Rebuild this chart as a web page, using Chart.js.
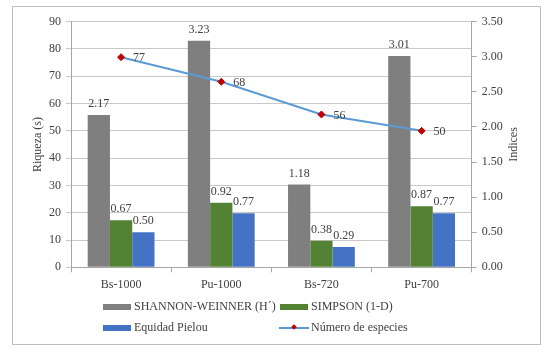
<!DOCTYPE html>
<html>
<head>
<meta charset="utf-8">
<script src="https://cdn.jsdelivr.net/npm/chart.js@4"></script>
<style>
html,body{margin:0;padding:0;background:#fff;}
#wrap{position:relative;width:555px;height:358px;}
#frame{position:absolute;left:12px;top:6px;width:527px;height:337px;border:1px solid #BFBFBF;box-sizing:content-box;pointer-events:none;}
canvas{position:absolute;left:0;top:0;}
.lg{position:absolute;font-family:"Liberation Serif","Times New Roman",serif;font-size:12px;color:#404040;white-space:nowrap;line-height:14px;}
.sw{position:absolute;}
</style>
</head>
<body>
<div id="wrap">
<canvas id="c" width="555" height="358"></canvas>
<div id="frame"></div>
<div id="legend"></div>
</div>
<script>
const categories = ["Bs-1000", "Pu-1000", "Bs-720", "Pu-700"];
const shannon = [2.17, 3.23, 1.18, 3.01];
const simpson = [0.67, 0.92, 0.38, 0.87];
const pielou = [0.50, 0.77, 0.29, 0.77];
const especies = [77, 68, 56, 50];
const seriesNames = ["SHANNON-WEINNER (H´)", "SIMPSON (1-D)", "Equidad Pielou", "Número de especies"];
const leftTitle = "Riqueza (s)";
const rightTitle = "Indices";

const FONT = '"Liberation Serif", "Times New Roman", serif';
const TXT = '#404040';

const labelPlugin = {
  id: 'labels',
  afterDatasetsDraw(chart) {
    const ctx = chart.ctx;
    ctx.save();
    ctx.font = '12px ' + FONT;
    ctx.fillStyle = TXT;
    chart.data.datasets.forEach((ds, i) => {
      const meta = chart.getDatasetMeta(i);
      meta.data.forEach((el, j) => {
        const v = ds.data[j];
        if (ds.type === 'line') {
          ctx.textAlign = 'left';
          ctx.textBaseline = 'middle';
          ctx.fillText(String(v), el.x + 12, el.y + 1);
        } else {
          ctx.textAlign = 'center';
          ctx.textBaseline = 'bottom';
          ctx.fillText(v.toFixed(2), el.x, el.y - 5);
        }
      });
    });
    const ca = chart.chartArea;
    const cy = (ca.top + ca.bottom) / 2;
    ctx.textAlign = 'center';
    ctx.textBaseline = 'middle';
    ctx.save();
    ctx.translate(38, cy);
    ctx.rotate(-Math.PI / 2);
    ctx.fillText(leftTitle, 0, 0);
    ctx.restore();
    ctx.save();
    ctx.translate(514, cy);
    ctx.rotate(-Math.PI / 2);
    ctx.fillText(rightTitle, 0, 0);
    ctx.restore();
    ctx.restore();
  }
};

const GRID = '#C8C8C8';
const AXIS = '#A6A6A6';

new Chart(document.getElementById('c'), {
  type: 'bar',
  data: {
    labels: categories,
    datasets: [
      { type: 'line', label: seriesNames[3], data: especies, yAxisID: 'y', order: 0,
        borderColor: '#5B9BD5', borderWidth: 2, tension: 0,
        pointStyle: 'rectRot', pointRadius: 3.5, pointBackgroundColor: '#C00000', pointBorderColor: '#C00000', pointBorderWidth: 1 },
      { label: seriesNames[0], data: shannon, yAxisID: 'y1', backgroundColor: '#7F7F7F', order: 1 },
      { label: seriesNames[1], data: simpson, yAxisID: 'y1', backgroundColor: '#548235', order: 1 },
      { label: seriesNames[2], data: pielou, yAxisID: 'y1', backgroundColor: '#4472C4', order: 1 }
    ]
  },
  options: {
    responsive: false,
    animation: false,
    devicePixelRatio: 1,
    layout: { padding: { left: 0, right: 0, top: 21.7, bottom: 0 } },
    datasets: { bar: { categoryPercentage: 0.667, barPercentage: 1.0 } },
    plugins: { legend: { display: false }, tooltip: { enabled: false }, title: { display: false } },
    scales: {
      x: {
        afterFit(s) { s.height = 358 - 267.3; },
        grid: { offset: true, drawOnChartArea: false, drawTicks: true, tickLength: 5, color: AXIS },
        border: { display: true, color: AXIS },
        ticks: { font: { family: FONT, size: 12 }, color: TXT, padding: 5, maxRotation: 0 }
      },
      y: {
        position: 'left', min: 0, max: 90,
        afterFit(s) { s.width = 71; },
        grid: { color: GRID, drawTicks: true, tickLength: 5 },
        border: { display: true, color: AXIS },
        ticks: { stepSize: 10, font: { family: FONT, size: 12 }, color: TXT, padding: 5 }
      },
      y1: {
        position: 'right', min: 0, max: 3.5,
        afterFit(s) { s.width = 555 - 471.7; },
        grid: { drawOnChartArea: false, drawTicks: true, tickLength: 5, color: AXIS },
        border: { display: true, color: AXIS },
        ticks: { stepSize: 0.5, font: { family: FONT, size: 12 }, color: TXT, padding: 5,
                 callback: v => Number(v).toFixed(2) }
      }
    }
  },
  plugins: [labelPlugin]
});

const lg = document.getElementById('legend');
const items = [
  { name: seriesNames[0], kind: 'box', color: '#7F7F7F', x: 103, y: 306.7 },
  { name: seriesNames[1], kind: 'box', color: '#548235', x: 280, y: 306.7 },
  { name: seriesNames[2], kind: 'box', color: '#4472C4', x: 103, y: 327.5 },
  { name: seriesNames[3], kind: 'line', color: '#5B9BD5', x: 279, y: 327.5 }
];
items.forEach(it => {
  const sw = document.createElement('div');
  sw.className = 'sw';
  if (it.kind === 'box') {
    sw.style.cssText = `left:${it.x}px;top:${it.y - 3}px;width:28px;height:6px;background:${it.color};`;
    lg.appendChild(sw);
  } else {
    sw.style.cssText = `left:${it.x}px;top:${it.y - 1}px;width:30px;height:2px;background:${it.color};`;
    const d = document.createElement('div');
    d.className = 'sw';
    d.style.cssText = `left:${it.x + 13}px;top:${it.y - 2.5}px;width:4px;height:4px;background:#C00000;transform:rotate(45deg);`;
    lg.appendChild(sw);
    lg.appendChild(d);
  }
  const t = document.createElement('div');
  t.className = 'lg';
  t.textContent = it.name;
  t.style.left = (it.x + (it.kind === 'box' ? 31 : 32)) + 'px';
  t.style.top = (it.y - 8) + 'px';
  lg.appendChild(t);
});
</script>
</body>
</html>
